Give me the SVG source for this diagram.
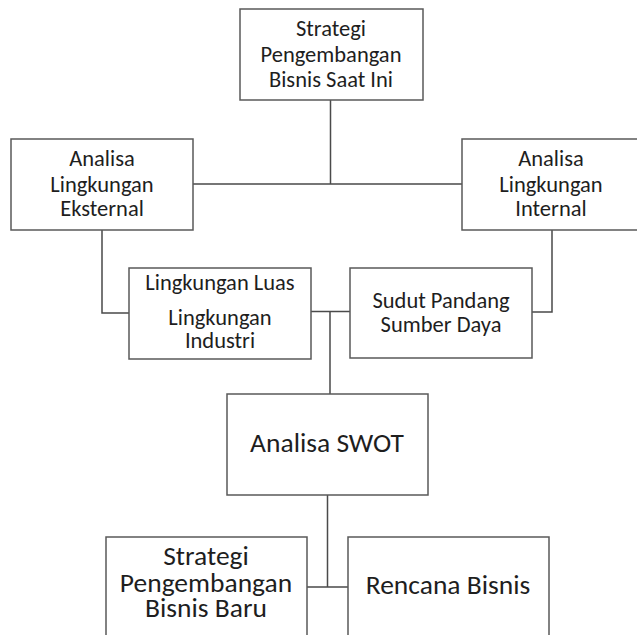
<svg xmlns="http://www.w3.org/2000/svg" width="637" height="635" viewBox="0 0 637 635">
<style>
.box{fill:#fff;stroke:#595959;stroke-width:1.5}
.ln{fill:none;stroke:#4a4a4a;stroke-width:1.5}
text{font-family:Carlito,Lato,"Liberation Sans",sans-serif;fill:#1e1e1e;text-anchor:middle}
.s{font-size:22.5px}
.l{font-size:27.5px}
</style>
<rect width="637" height="635" fill="#fff"/>
<g id="connectors">
<path class="ln" d="M330.5 100V184M193 184H462"/>
<path class="ln" d="M102 230V313H129"/>
<path class="ln" d="M552 230V312H532"/>
<path class="ln" d="M311 311.5H350M330 311.5V394"/>
<path class="ln" d="M327.5 495V587M307 587H348"/>
</g>
<g id="n_top">
<rect class="box" x="240" y="9" width="183" height="91"/>
<text class="s" x="331" y="36">Strategi</text>
<text class="s" x="331" y="62">Pengembangan</text>
<text class="s" x="331" y="87">Bisnis Saat Ini</text>
</g>
<g id="n_eksternal">
<rect class="box" x="11" y="139" width="182" height="91"/>
<text class="s" x="102" y="166">Analisa</text>
<text class="s" x="102" y="192">Lingkungan</text>
<text class="s" x="102" y="216">Eksternal</text>
</g>
<g id="n_internal">
<rect class="box" x="462" y="139" width="180" height="91"/>
<text class="s" x="551" y="166">Analisa</text>
<text class="s" x="551" y="192">Lingkungan</text>
<text class="s" x="551" y="216">Internal</text>
</g>
<g id="n_luas">
<rect class="box" x="129" y="268" width="182" height="91"/>
<text class="s" x="220" y="290">Lingkungan Luas</text>
<text class="s" x="220" y="325">Lingkungan</text>
<text class="s" x="220" y="348">Industri</text>
</g>
<g id="n_sudut">
<rect class="box" x="350" y="268" width="182" height="90"/>
<text class="s" x="441" y="308">Sudut Pandang</text>
<text class="s" x="441" y="332">Sumber Daya</text>
</g>
<g id="n_swot">
<rect class="box" x="227" y="394" width="201" height="101"/>
<text class="l" x="327" y="452">Analisa SWOT</text>
</g>
<g id="n_baru">
<rect class="box" x="106" y="537" width="201" height="110"/>
<text class="l" x="206" y="565">Strategi</text>
<text class="l" x="206" y="592">Pengembangan</text>
<text class="l" x="206" y="617">Bisnis Baru</text>
</g>
<g id="n_rencana">
<rect class="box" x="348" y="537" width="201" height="110"/>
<text class="l" x="448" y="594">Rencana Bisnis</text>
</g>
</svg>
